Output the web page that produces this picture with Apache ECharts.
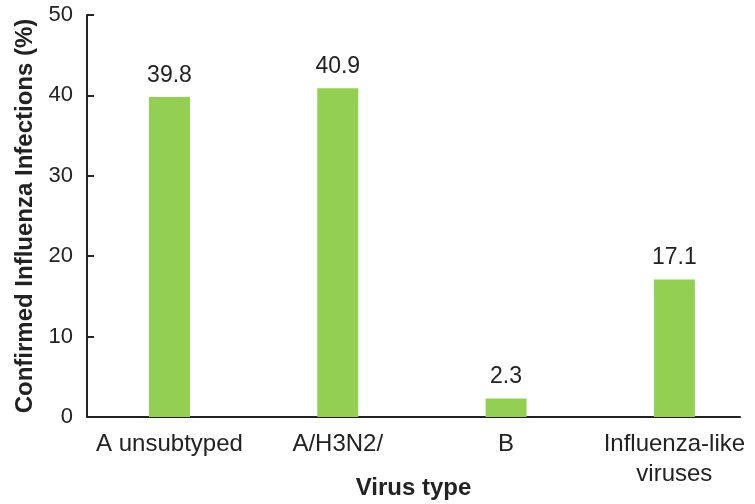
<!DOCTYPE html>
<html>
<head>
<meta charset="utf-8">
<script src="https://cdn.jsdelivr.net/npm/echarts@6/dist/echarts.min.js"></script>
<style>
  html, body { margin: 0; padding: 0; background: #ffffff; }
  #chart { width: 755px; height: 504px; }
</style>
</head>
<body>
<div id="chart"></div>
<script>
// Share of confirmed influenza infections by virus type
const categories = ['A unsubtyped', 'A/H3N2/', 'B', 'Influenza-like\nviruses'];
const positions = [1, 2, 3, 4];
const percentages = [39.8, 40.9, 2.3, 17.1];
const yTicks = [0, 10, 20, 30, 40, 50];

const FONT = '"Liberation Sans", Arial, Helvetica, sans-serif';
const INK = '#222222';

const chart = echarts.init(document.getElementById('chart'), null, { renderer: 'canvas' });

chart.setOption({
  animation: false,
  backgroundColor: '#ffffff',
  grid: { left: 87, right: 15, top: 15, bottom: 87, containLabel: false, outerBoundsMode: 'none' },
  xAxis: {
    type: 'value',
    min: 0.51,
    max: 4.39,
    name: 'Virus type',
    nameLocation: 'middle',
    nameGap: 59,
    nameMoveOverlap: false,
    nameTextStyle: { fontFamily: FONT, fontSize: 24, fontWeight: 'bold', color: INK },
    axisLine: { show: true, onZero: false, lineStyle: { color: INK, width: 2 } },
    axisTick: { show: false },
    splitLine: { show: false },
    axisLabel: {
      customValues: positions,
      formatter: v => categories[positions.indexOf(v)] || '',
      fontFamily: FONT, fontSize: 24, color: INK, margin: 12, lineHeight: 30
    }
  },
  yAxis: {
    type: 'value',
    min: yTicks[0],
    max: yTicks[yTicks.length - 1],
    interval: 10,
    name: 'Confirmed Influenza Infections (%)',
    nameLocation: 'middle',
    nameGap: 50,
    nameMoveOverlap: false,
    nameRotate: 90,
    nameTextStyle: { fontFamily: FONT, fontSize: 24, fontWeight: 'bold', color: INK },
    axisLine: { show: true, lineStyle: { color: INK, width: 2 } },
    axisTick: { show: true, inside: true, length: 7, lineStyle: { color: INK, width: 2 } },
    splitLine: { show: false },
    axisLabel: { fontFamily: FONT, fontSize: 22, color: INK, margin: 14 }
  },
  series: [{
    type: 'bar',
    data: positions.map((p, i) => [p, percentages[i]]),
    barWidth: 41,
    itemStyle: { color: '#92CF52' },
    label: {
      show: true,
      position: 'top',
      distance: 10,
      fontFamily: FONT,
      fontSize: 23,
      color: INK,
      formatter: p => p.value[1].toFixed(1)
    }
  }]
});
</script>
</body>
</html>
